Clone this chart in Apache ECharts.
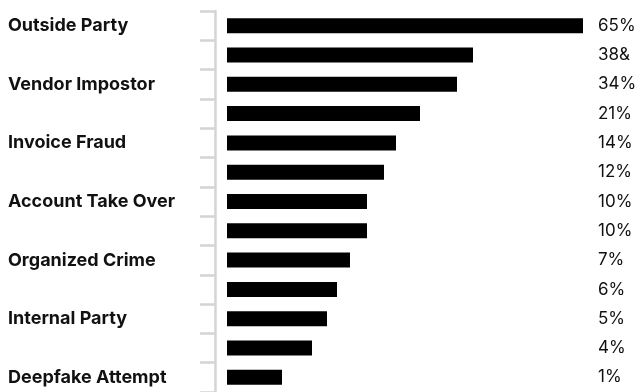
<!DOCTYPE html>
<html>
<head>
<meta charset="utf-8">
<script src="https://cdn.jsdelivr.net/npm/echarts@6/dist/echarts.min.js"></script>
<style>
  html, body { margin: 0; padding: 0; background: #fff; }
  #chart { width: 641px; height: 392px; }
</style>
</head>
<body>
<div id="chart"></div>
<script>
// rows top to bottom; only every other row carries a name
var categories = ['Outside Party', '', 'Vendor Impostor', '', 'Invoice Fraud', '', 'Account Take Over', '',
    'Organized Crime', '', 'Internal Party', '', 'Deepfake Attempt'];
// bar lengths as drawn (not proportional to the printed labels)
var barValues = [356, 246, 230, 193, 169, 157, 140, 140, 123, 110, 100, 85, 55];
// printed value labels, kept as in the picture
var valueLabels = ['65%', '38&', '34%', '21%', '14%', '12%', '10%', '10%', '7%', '6%', '5%', '4%', '1%'];

var myChart = echarts.init(document.getElementById('chart'));
var option = {
    animation: false,
    grid: { left: 227, right: 58, top: 11, bottom: 0 },
    xAxis: { type: 'value', min: 0, max: 356, show: false },
    yAxis: [{
            type: 'category',
            data: categories,
            inverse: true,
            position: 'left',
            offset: 12,
            axisLine: { show: true, onZero: false, lineStyle: { color: '#d4d4d4', width: 2.5 } },
            axisTick: { show: true, length: 15, lineStyle: { color: '#d4d4d4', width: 2.5 } },
            axisLabel: {
                interval: 0,
                margin: 207,
                align: 'left',
                padding: [4, 0, 0, 0],
                color: '#111',
                fontFamily: 'Inter',
                fontWeight: 'bold',
                fontSize: 18
            }
        },
        {
            type: 'category',
            data: valueLabels,
            inverse: true,
            position: 'right',
            axisLine: { show: false },
            axisTick: { show: false },
            axisLabel: {
                interval: 0,
                margin: 15,
                align: 'left',
                padding: [4, 0, 0, 0],
                color: '#111',
                fontFamily: 'Inter',
                fontSize: 17
            }
        }
    ],
    series: [{
        type: 'bar',
        data: barValues,
        barWidth: 15,
        itemStyle: { color: '#000' }
    }]
};
myChart.setOption(option);
</script>
</body>
</html>
